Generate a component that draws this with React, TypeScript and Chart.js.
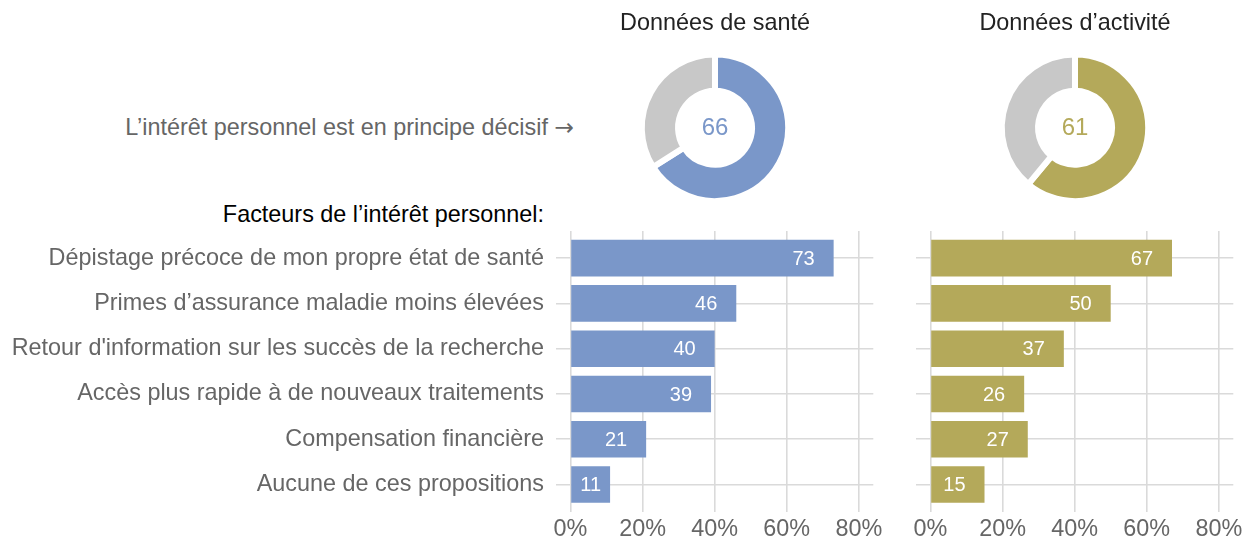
import React, { useEffect, useRef } from "react";
import { Chart, registerables } from "chart.js";

Chart.register(...registerables);

const FONT = "'Liberation Sans', Arial, Helvetica, sans-serif";
const BLUE = "#7A97C9";
const OLIVE = "#B4A95A";
const GREY_RING = "#C8C8C8";
const GRID = "#DADADA";
const TEXT_GREY = "#666666";

const categories = [
  "Dépistage précoce de mon propre état de santé",
  "Primes d’assurance maladie moins élevées",
  "Retour d'information sur les succès de la recherche",
  "Accès plus rapide à de nouveaux traitements",
  "Compensation financière",
  "Aucune de ces propositions",
];
const healthValues = [73, 46, 40, 39, 21, 11];
const activityValues = [67, 50, 37, 26, 27, 15];
const xTicks = [0, 20, 40, 60, 80];

const donutLabels = ["Décisif", "Autre"];
const healthShares = [66, 34];
const activityShares = [61, 39];

const healthTitle = "Données de santé";
const activityTitle = "Données d’activité";
const decisiveText = "L’intérêt personnel est en principe décisif";
const arrowText = "→";
const factorsText = "Facteurs de l’intérêt personnel:";

function makeBarLabelPlugin() {
  return {
    id: "barLabels",
    afterDatasetsDraw(chart: any) {
      const ctx = chart.ctx;
      const meta = chart.getDatasetMeta(0);
      const ds = chart.data.datasets[0];
      ctx.save();
      ctx.font = `20px ${FONT}`;
      ctx.fillStyle = "#ffffff";
      ctx.textBaseline = "middle";
      meta.data.forEach((bar: any, i: number) => {
        const v = ds.data[i].x;
        const text = String(v);
        const w = ctx.measureText(text).width;
        const { x, y, base } = bar.getProps(["x", "y", "base"], true);
        const right = x - 19;
        if (right - w < base + 6) {
          ctx.textAlign = "center";
          ctx.fillText(text, (x + base) / 2, y + 1);
        } else {
          ctx.textAlign = "right";
          ctx.fillText(text, right, y + 1);
        }
      });
      ctx.restore();
    },
  };
}

function makeCenterPlugin(text: string, color: string) {
  return {
    id: "centerText",
    afterDatasetsDraw(chart: any) {
      const ctx = chart.ctx;
      const arc = chart.getDatasetMeta(0).data[0];
      if (!arc) return;
      ctx.save();
      ctx.font = `24px ${FONT}`;
      ctx.fillStyle = color;
      ctx.textAlign = "center";
      ctx.textBaseline = "middle";
      ctx.fillText(text, arc.x, arc.y + 1);
      ctx.restore();
    },
  };
}

function BarChart(props: {
  values: number[];
  color: string;
  showLabels: boolean;
  axisWidth: number;
  padRight: number;
  width: number;
  height: number;
  left: number;
  top: number;
}) {
  const ref = useRef<HTMLCanvasElement | null>(null);
  useEffect(() => {
    if (!ref.current) return;
    const chart = new Chart(ref.current, {
      type: "bar",
      data: {
        datasets: [
          {
            data: props.values.map((v, i) => ({ x: v, y: i })) as any,
            backgroundColor: props.color,
            borderWidth: 0,
            categoryPercentage: 1,
            barPercentage: 0.81,
          },
        ],
      },
      options: {
        indexAxis: "y",
        responsive: false,
        animation: false,
        devicePixelRatio: 1,
        events: [],
        layout: { padding: { top: 11, right: props.padRight, bottom: 0, left: 0 } },
        plugins: { legend: { display: false }, tooltip: { enabled: false }, title: { display: false } },
        scales: {
          x: {
            type: "linear",
            min: -4,
            max: 84,
            offset: false,
            afterBuildTicks: (s: any) => {
              s.ticks = xTicks.map((v) => ({ value: v }));
            },
            afterFit: (s: any) => {
              s.height = 30.3;
              s.paddingLeft = 0;
              s.paddingRight = 0;
            },
            grid: { color: GRID, lineWidth: 1.6, drawTicks: false, offset: false },
            border: { display: false },
            ticks: {
              callback: (v: any) => `${v}%`,
              font: { family: FONT, size: 23.4 },
              color: TEXT_GREY,
              padding: 4,
              maxRotation: 0,
            },
          },
          y: {
            type: "linear",
            reverse: true,
            min: -0.6,
            max: 5.6,
            offset: false,
            afterBuildTicks: (s: any) => {
              s.ticks = categories.map((_, i) => ({ value: i }));
            },
            afterFit: (s: any) => {
              s.width = props.axisWidth;
              s.paddingTop = 0;
              s.paddingBottom = 0;
            },
            grid: { color: GRID, lineWidth: 1.6, drawTicks: false, offset: false },
            border: { display: false },
            ticks: {
              display: props.showLabels,
              callback: (v: any) => categories[Math.round(Number(v))] ?? "",
              font: { family: FONT, size: 23.4 },
              color: TEXT_GREY,
              padding: 12,
            },
          },
        },
      } as any,
      plugins: [makeBarLabelPlugin()],
    });
    return () => chart.destroy();
  }, []);
  return (
    <canvas
      ref={ref}
      width={props.width}
      height={props.height}
      style={{ position: "absolute", left: props.left, top: props.top, width: props.width, height: props.height }}
    />
  );
}

function Donut(props: { shares: number[]; color: string; title: string; left: number }) {
  const ref = useRef<HTMLCanvasElement | null>(null);
  useEffect(() => {
    if (!ref.current) return;
    const chart = new Chart(ref.current, {
      type: "doughnut",
      data: {
        labels: donutLabels,
        datasets: [
          {
            data: props.shares,
            backgroundColor: [props.color, GREY_RING],
            borderColor: "#ffffff",
            borderWidth: 6,
            hoverBorderWidth: 6,
            hoverOffset: 0,
            offset: 0,
          },
        ],
      },
      options: {
        responsive: false,
        animation: false,
        devicePixelRatio: 1,
        events: [],
        cutout: "50.5%",
        layout: { padding: 0 },
        plugins: {
          legend: { display: false },
          tooltip: { enabled: false },
          title: {
            display: true,
            text: props.title,
            color: "#222222",
            font: { family: FONT, size: 23.4, weight: "normal" },
            padding: { top: 9.3, bottom: 14.2 },
          },
        },
      } as any,
      plugins: [makeCenterPlugin(String(props.shares[0]), props.color)],
    });
    return () => chart.destroy();
  }, []);
  return (
    <canvas
      ref={ref}
      width={230}
      height={204}
      style={{ position: "absolute", left: props.left, top: 0, width: 230, height: 204 }}
    />
  );
}

export default function App() {
  return (
    <div
      style={{
        position: "absolute",
        left: 0,
        top: 0,
        width: 1249,
        height: 542,
        background: "#ffffff",
        overflow: "hidden",
        fontFamily: FONT,
      }}
    >
      <Donut shares={healthShares} color={BLUE} title={healthTitle} left={600} />
      <Donut shares={activityShares} color={OLIVE} title={activityTitle} left={960} />
      <div
        style={{
          position: "absolute",
          left: 0,
          top: 112.6,
          width: 574,
          textAlign: "right",
          fontSize: 23.4,
          lineHeight: "28px",
          color: TEXT_GREY,
          whiteSpace: "nowrap",
        }}
      >
        {decisiveText}{" "}
        <span style={{ fontFamily: "'DejaVu Sans', sans-serif", fontSize: 23.4 }}>{arrowText}</span>
      </div>
      <div
        style={{
          position: "absolute",
          left: 0,
          top: 200.2,
          width: 544,
          textAlign: "right",
          fontSize: 23.4,
          lineHeight: "28px",
          color: "#000000",
          whiteSpace: "nowrap",
        }}
      >
        {factorsText}
      </div>
      <BarChart
        values={healthValues}
        color={BLUE}
        showLabels={true}
        axisWidth={556}
        padRight={16.7}
        width={890}
        height={322}
        left={0}
        top={220}
      />
      <BarChart
        values={activityValues}
        color={OLIVE}
        showLabels={false}
        axisWidth={26}
        padRight={15.7}
        width={359}
        height={322}
        left={890}
        top={220}
      />
    </div>
  );
}
